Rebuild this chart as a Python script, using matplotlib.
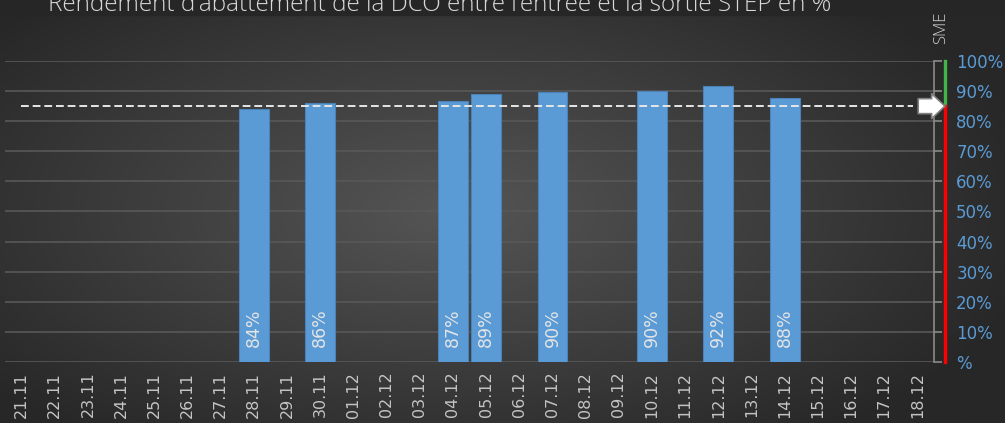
import numpy as np
import matplotlib.pyplot as plt
import matplotlib.transforms as mtransforms
from matplotlib.colors import LinearSegmentedColormap
from matplotlib.patches import Rectangle

# Data
dates = ['21.11', '22.11', '23.11', '24.11', '25.11', '26.11', '27.11', '28.11',
         '29.11', '30.11', '01.12', '02.12', '03.12', '04.12', '05.12', '06.12',
         '07.12', '08.12', '09.12', '10.12', '11.12', '12.12', '13.12', '14.12',
         '15.12', '16.12', '17.12', '18.12']
measured_days = ['28.11', '30.11', '04.12', '05.12', '07.12', '10.12', '12.12', '14.12']
rendement = [83.9, 85.9, 86.7, 89.1, 89.8, 89.9, 91.8, 87.6]
seuil_sme = 85
y_ticks = [0, 10, 20, 30, 40, 50, 60, 70, 80, 90, 100]
y_tick_labels = ['%', '10%', '20%', '30%', '40%', '50%', '60%', '70%', '80%', '90%', '100%']
title = "Rendement d'abattement de la DCO entre l'entrée et la sortie STEP en %"

BAR_COLOR = '#5B9BD5'
TEXT_GREY = '#c4c4c4'

fig = plt.figure(figsize=(10.05, 4.23), dpi=100)

# radial dark background
bg = fig.add_axes([0, 0, 1, 1], zorder=-10)
yy, xx = np.mgrid[0:1:300j, 0:1:700j]
r = np.sqrt(((xx - 0.45) / 0.8) ** 2 + ((yy - 0.5) / 0.9) ** 2)
cmap = LinearSegmentedColormap.from_list('bg', ['#555555', '#272727'])
bg.imshow(r, cmap=cmap, extent=[0, 1, 0, 1], aspect='auto', origin='lower',
          vmin=0, vmax=0.75)
bg.add_patch(Rectangle((0, 1 - 15 / 423), 1, 15 / 423, color='#262626'))
bg.set_xlim(0, 1)
bg.set_ylim(0, 1)
bg.axis('off')

ax = fig.add_axes([5 / 1005, 61 / 423, 929 / 1005, 301 / 423])
ax.set_facecolor('none')

x = np.arange(len(dates))
bar_x = [dates.index(d) for d in measured_days]
ax.bar(bar_x, rendement, width=0.9, color=BAR_COLOR, edgecolor='#4a82b8',
       linewidth=0.8, zorder=3)

for bx, v in zip(bar_x, rendement):
    ax.text(bx, 5, f'{round(v)}%', rotation=90, ha='center', va='bottom',
            color='#e4e4e4', fontsize=12.5, zorder=4)

ax.set_xlim(-0.5, len(dates) - 0.5)
ax.set_ylim(0, 100)
ax.set_xticks(x)
ax.set_xticklabels(dates, rotation=90, color=TEXT_GREY, fontsize=11.5)
ax.tick_params(axis='x', length=0, pad=7)

ax.yaxis.tick_right()
ax.set_yticks(y_ticks)
ax.set_yticklabels(y_tick_labels, color=BAR_COLOR, fontsize=12)
ax.tick_params(axis='y', length=6, width=1.2, color='#8a8a8a', pad=10)

ax.yaxis.grid(True, color='#585858', linewidth=1.2, zorder=0)
ax.set_axisbelow(True)
for side in ['left', 'top', 'bottom']:
    ax.spines[side].set_visible(False)
ax.spines['right'].set_color('#8a8a8a')
ax.spines['right'].set_linewidth(1.2)

# SME threshold line
ax.axhline(seuil_sme, xmin=16 / 929, xmax=908 / 929, color='#e6e6e6',
           linestyle=(0, (4, 2)), linewidth=1.4, zorder=5)

trans = mtransforms.blended_transform_factory(ax.transAxes, ax.transData)
x_sme = 1.0118
ax.plot([x_sme, x_sme], [seuil_sme, 100], transform=trans, color='#3fb54a',
        linewidth=2.4, clip_on=False, zorder=6)
ax.plot([x_sme, x_sme], [0, seuil_sme], transform=trans, color='#ff0000',
        linewidth=2.4, clip_on=False, zorder=6)
ax.annotate('', xy=(x_sme, seuil_sme), xycoords=trans,
            xytext=(0.983, seuil_sme), textcoords=trans,
            arrowprops=dict(arrowstyle='simple,head_length=0.4,head_width=0.75,tail_width=0.45',
                            fc='white', ec='#808080', lw=1.2, mutation_scale=24,
                            shrinkA=0, shrinkB=0),
            annotation_clip=False, zorder=7)

fig.text(941 / 1005, 1 - 28 / 423, 'SME', rotation=90, ha='center', va='center',
         color='#d0d0d0', fontsize=12, family='Open Sans', fontweight='light')

fig.text(440 / 1005, 1 - 11 / 423, title, ha='center', va='baseline',
         color='#d9d9d9', fontsize=17.5, family='Open Sans', fontweight='light')

fig.savefig('out.png', dpi=100)
